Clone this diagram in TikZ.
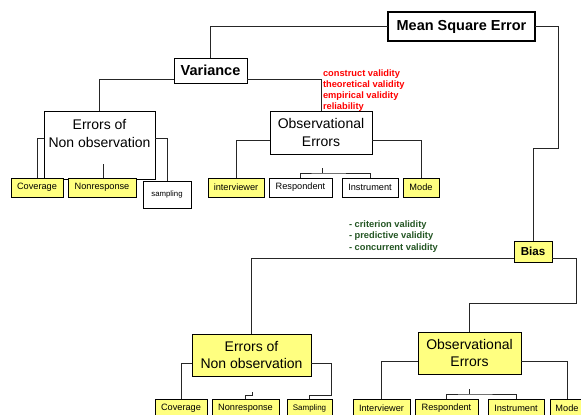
\documentclass[tikz,border=0pt]{standalone}
\usepackage{fontspec}
\setmainfont{Liberation Sans}
\usetikzlibrary{calc}
\definecolor{boxyellow}{RGB}{255,255,128}
\definecolor{validred}{RGB}{255,0,0}
\definecolor{validgreen}{RGB}{35,85,35}

\begin{document}
\begin{tikzpicture}[x=1pt, y=-1pt,
    every node/.style={inner sep=0pt, outer sep=0pt},
    link/.style={draw=black!85, line width=0.8pt},
    rootbox/.style={draw, line width=2.6pt, font=\fontsize{14.5}{17}\selectfont\bfseries},
    headbox/.style={draw, line width=0.9pt, font=\fontsize{14.5}{17}\selectfont\bfseries},
    errbox/.style={draw, line width=0.9pt, align=center, font=\fontsize{14}{17.5}\selectfont},
    leaf/.style={draw, line width=0.9pt, minimum height=19pt, font=\fontsize{9.2}{11}\selectfont},
    yleaf/.style={leaf, fill=boxyellow},
    validity/.style={anchor=north west, align=left, font=\fontsize{9.3}{11.2}\selectfont\bfseries}
  ]
  \useasboundingbox (0,0) rectangle (581,415);
  \clip (0,0) rectangle (581,415);

  % top branch: variance
  \node[rootbox, minimum width=147pt, minimum height=29pt] (mse) at (461.5,26.5) {Mean Square Error};
  \node[headbox, minimum width=73pt, minimum height=25pt] (var) at (210.5,70.5) {Variance};
  \node[errbox, minimum width=111pt, minimum height=68pt] (eno1) at (99.5,145) {};
  \node[anchor=north, align=center, font=\fontsize{14}{18}\selectfont] (eno1txt) at (99.5,119.5) {Errors of\\Non observation};
  \node[errbox, minimum width=102pt, minimum height=43pt] (obs1) at (321,132.5) {Observational\\Errors};
  \node[validity, text=validred] (constructs) at (323,69.5) {construct validity\\theoretical validity\\empirical validity\\reliability};

  \node[yleaf, minimum width=52pt] (cov1) at (37,187.5) {Coverage};
  \node[yleaf, minimum width=68pt] (nr1) at (102,187.5) {Nonresponse};
  \node[leaf, fill=white, minimum width=48pt, minimum height=27pt, font=\fontsize{7.8}{9}\selectfont] (samp1) at (167,194.5) {sampling};
  \node[yleaf, minimum width=56pt] (int1) at (236,187.5) {interviewer};
  \node[leaf, minimum width=63pt] (resp1) at (300.5,187.5) {Respondent};
  \node[leaf, minimum width=56pt] (inst1) at (370,187.5) {Instrument};
  \node[yleaf, minimum width=36pt] (mode1) at (421,187.5) {Mode};

  % bottom branch: bias
  \node[headbox, fill=boxyellow, minimum width=38pt, minimum height=21pt, font=\fontsize{11.6}{13}\selectfont\bfseries] (bias) at (533,251.5) {Bias};
  \node[validity, text=validgreen] (criteria) at (349,221) {- criterion validity\\- predictive validity\\- concurrent validity};
  \node[errbox, fill=boxyellow, minimum width=119pt, minimum height=42pt] (eno2) at (251.5,355) {Errors of\\Non observation};
  \node[errbox, fill=boxyellow, minimum width=103pt, minimum height=42pt] (obs2) at (469.5,353) {Observational\\Errors};

  \node[yleaf, minimum width=52pt] (cov2) at (181,408.5) {Coverage};
  \node[yleaf, minimum width=67pt] (nr2) at (245.5,408.5) {Nonresponse};
  \node[yleaf, minimum width=45pt, font=\fontsize{8}{9.5}\selectfont] (samp2) at (309.5,408.5) {Sampling};
  \node[yleaf, minimum width=57pt] (int2) at (381.5,408.5) {Interviewer};
  \node[yleaf, minimum width=63pt] (resp2) at (446.5,408.5) {Respondent};
  \node[yleaf, minimum width=56pt] (inst2) at (516,408.5) {Instrument};
  \node[yleaf, minimum width=34pt] (mode2) at (567,408.5) {Mode};

  \coordinate (msebend) at (558,148);
  \coordinate (biasbend) at (576,303);
  \coordinate (sampbend) at (331,395);
  \coordinate (nr1tip) at (103,164);
  \coordinate (nr2tip) at (252,392);
  \coordinate (ob1fork) at (322,168);
  \coordinate (ob2fork) at (469,389);

  \draw[link] (mse.west) -| (var.north);
  \draw[link] (mse.east) -| (msebend) -| (bias.north);
  \draw[link] ($(var.south west)+(0,-4)$) -| (eno1.north);
  \draw[link] ($(var.south east)+(0,-4)$) -| (obs1.north);
  \draw[link] ($(eno1.north west)+(0,27)$) -| (cov1.north);
  \draw[link] ($(eno1.north east)+(0,27)$) -| (samp1.north);
  \draw[link] (nr1tip) -- (nr1tip |- nr1.north);
  \draw[link] ($(obs1.north west)+(0,29)$) -| (int1.north);
  \draw[link] ($(obs1.north east)+(0,29)$) -| (mode1.north);
  \draw[link] (ob1fork) -- ++(0,5) coordinate (ob1join);
  \draw[link] (resp1.north) |- (ob1join) -| (inst1.north);

  \draw[link] ($(bias.south west)+(0,-4)$) -| (eno2.north);
  \draw[link] ($(bias.south east)+(0,-4)$) -| (biasbend) -| (obs2.north);
  \draw[link] ($(eno2.north west)+(0,29)$) -| (cov2.north);
  \draw[link] ($(eno2.north east)+(0,29)$) -| (sampbend) -| (samp2.north);
  \draw[link] (nr2tip) -- ++(0,3) -| (nr2.north);
  \draw[link] ($(obs2.north west)+(0,29)$) -| (int2.north);
  \draw[link] ($(obs2.north east)+(0,29)$) -| (mode2.north);
  \draw[link] (ob2fork) -- ++(0,5) coordinate (ob2join);
  \draw[link] (resp2.north) |- (ob2join) -| (inst2.north);
\end{tikzpicture}
\end{document}
